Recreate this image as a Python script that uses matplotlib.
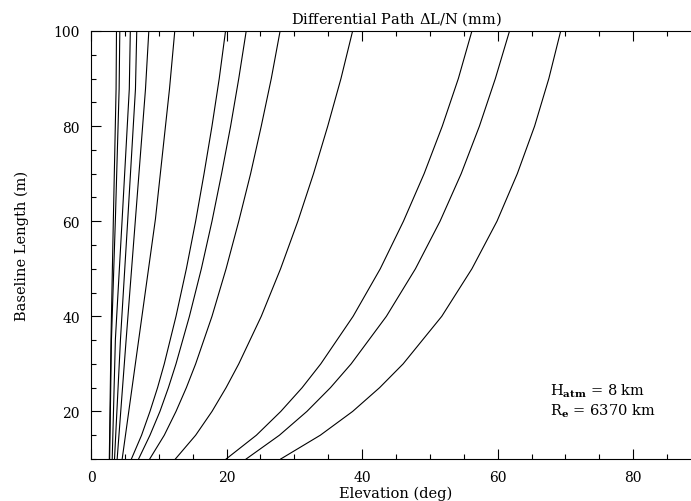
import matplotlib
matplotlib.use("Agg")
import matplotlib.pyplot as plt
from matplotlib.ticker import MultipleLocator

plt.rcParams['font.family'] = ['DejaVu Serif']
plt.rcParams['mathtext.fontset'] = 'dejavuserif'

# baseline length (m) for the right-hand contours
base_r = [10, 15, 20, 25, 30, 40, 50, 60, 70, 80, 90, 100]
# elevation (deg) of each contour at those baselines
lvl_005 = [27.99, 33.83, 38.6, 42.58, 46.05, 51.75, 56.2, 59.9, 62.9, 65.45, 67.55, 69.3]
lvl_0075 = [22.89, 27.8, 31.85, 35.33, 38.38, 43.58, 47.87, 51.5, 54.62, 57.31, 59.66, 61.75]
lvl_01 = [19.94, 24.4, 28.0, 31.15, 33.9, 38.67, 42.68, 46.1, 49.15, 51.83, 54.2, 56.2]
lvl_025 = [12.45, 15.44, 17.85, 19.93, 21.8, 25.12, 27.97, 30.52, 32.83, 34.93, 36.88, 38.6]
lvl_05 = [8.66, 10.81, 12.54, 14.07, 15.44, 17.85, 19.93, 21.8, 23.55, 25.12, 26.6, 27.9]
lvl_075 = [7.02, 8.7, 10.17, 11.42, 12.54, 14.52, 16.28, 17.85, 19.27, 20.6, 21.8, 22.9]
lvl_1 = [5.96, 7.46, 8.7, 9.82, 10.81, 12.54, 14.07, 15.44, 16.68, 17.85, 18.92, 19.85]

# baseline length (m) for the steep left-hand contours
base_l = [10, 35.2, 60.5, 87.8, 100]
lvl_h = [4.6, 7.05, 9.51, 11.58, 12.36]
lvl_i = [3.86, 5.19, 6.56, 8.04, 8.53]
lvl_j = [3.47, 4.35, 5.43, 6.56, 6.75]
lvl_k = [3.13, 3.6, 4.6, 5.65, 5.8]
lvl_l = [2.75, 3.02, 3.6, 4.15, 4.25]
lvl_m = [2.7, 2.95, 3.3, 3.7, 3.76]

fig = plt.figure(figsize=(6.91, 5.02), dpi=100)
ax = fig.add_axes([91 / 691, 42 / 502, 610 / 691, 428 / 502])

for e in [lvl_005, lvl_0075, lvl_01, lvl_025, lvl_05, lvl_075, lvl_1]:
    ax.plot(e, base_r, color='black', lw=0.8)
for e in [lvl_h, lvl_i, lvl_j, lvl_k, lvl_l, lvl_m]:
    ax.plot(e, base_l, color='black', lw=0.8)

ax.set_xlim(0, 90)
ax.set_ylim(10, 100)
ax.xaxis.set_major_locator(MultipleLocator(20))
ax.xaxis.set_minor_locator(MultipleLocator(5))
ax.yaxis.set_major_locator(MultipleLocator(20))
ax.yaxis.set_minor_locator(MultipleLocator(5))
ax.tick_params(which='both', direction='in', top=True, right=True,
               labelsize=10, width=0.8, pad=8)
ax.tick_params(which='major', length=7)
ax.tick_params(which='minor', length=3.5)
for s in ax.spines.values():
    s.set_linewidth(0.8)

ax.set_xlabel('Elevation (deg)', fontsize=10.5, labelpad=1)
ax.set_ylabel('Baseline Length (m)', fontsize=10.5, labelpad=18)
ax.set_title(r'Differential Path $\Delta$L/N (mm)', fontsize=10.5, pad=6)

ax.text(67.7, 24.5, r'H$_{\mathbf{atm}}$ = 8 km', fontsize=10.5, va='center')
ax.text(67.7, 20.3, r'R$_{\mathbf{e}}$ = 6370 km', fontsize=10.5, va='center')

fig.savefig('out.png', dpi=100)
